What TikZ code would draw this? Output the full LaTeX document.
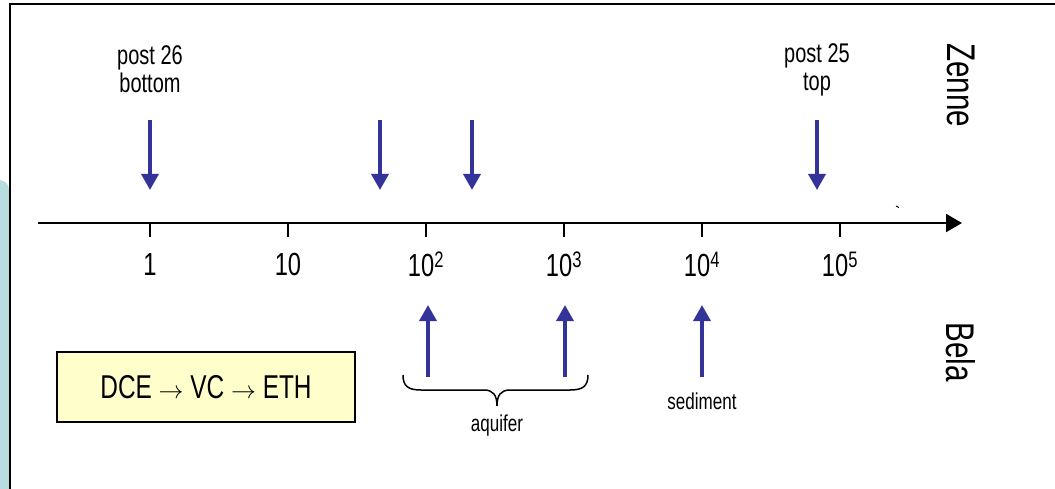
\documentclass[tikz,border=0pt]{standalone}
\usepackage{fontspec}
\setmainfont{Liberation Sans}[FakeStretch=0.74]
\usepackage{xcolor}
\usetikzlibrary{arrows.meta,positioning,calc}
\definecolor{marker}{HTML}{333399}
\definecolor{note}{HTML}{FFFFCC}
\definecolor{band}{HTML}{B7DDE0}

\begin{document}
\begin{tikzpicture}[x=1pt,y=-1pt,
    probe/.style={-{Triangle[length=16pt,width=17pt]}, line width=3.5pt, color=marker},
    axisline/.style={-{Triangle[length=16pt,width=18pt]}, line width=2pt},
    tickmark/.style={line width=2pt},
    ticklbl/.style={font=\fontsize{32}{34}\selectfont, inner sep=0pt},
    poslbl/.style={font=\fontsize{27}{28}\selectfont, align=center, inner sep=0pt},
    sitelbl/.style={font=\fontsize{40}{42}\selectfont, rotate=-90, inner sep=0pt},
    zonelbl/.style={font=\fontsize{23}{25}\selectfont, inner sep=0pt},
    chainbox/.style={rectangle, draw=black, line width=1.5pt, fill=note, minimum width=298pt, minimum height=70pt, font=\fontsize{33}{35}\selectfont}
]
    \useasboundingbox (0,0) rectangle (1055,489);

    % Background band and frame
    \fill[band] (0,180) .. controls (5,181) and (9,184) .. (9,190) -- (9,489) -- (0,489) -- cycle;
    \draw[line width=2pt] (1055,4.5) -- (10,4.5) -- (10,489);

    % Axis
    \coordinate (axstart) at (38,223);
    \coordinate (axend) at (962,223);
    \draw[axisline] (axstart) -- (axend);
    \draw[line width=1pt] (896,206) -- (899,207.5);

    % Ticks and labels
    \foreach \x/\lab [count=\i] in {150/1, 288/10, 426/10\textsuperscript{2}, 564/10\textsuperscript{3}, 702/10\textsuperscript{4}, 840/10\textsuperscript{5}}{
        \coordinate (tk\i) at (\x,223);
        \draw[tickmark] (tk\i) -- ++(0,14);
        \node[ticklbl] (tl\i) at (\x,264) {\lab};
    }

    % Zenne side
    \node[sitelbl] (zenne) at (961,85) {Zenne};
    \node[poslbl] (post26) at (150,69) {post 26\\bottom};
    \node[poslbl] (post25) at (817,70) {post 25\\top};
    \foreach \x/\n in {150/a, 380/b, 472/c, 817/d}{
        \coordinate (zs\n) at (\x,120);
        \coordinate (ze\n) at (\x,190);
        \draw[probe] (zs\n) -- (ze\n);
    }

    % Bela side
    \node[sitelbl] (bela) at (961,352) {Bela};
    \foreach \x/\n in {428/a, 565/b, 702/c}{
        \coordinate (bs\n) at (\x,377);
        \coordinate (be\n) at (\x,305);
        \draw[probe] (bs\n) -- (be\n);
    }
    \node[zonelbl] (sediment) at (702,401) {sediment};

    % Aquifer brace
    \draw[line width=1.5pt] (403,375) .. controls (403,386) and (408,390) .. (421,390)
        -- (484,390) .. controls (493,390) and (497,395) .. (497,406)
        .. controls (497,395) and (501,390) .. (510,390)
        -- (570,390) .. controls (583,390) and (588,386) .. (588,375);
    \node[zonelbl] (aquifer) at (497,426) {aquifer};

    % Reaction chain
    \node[chainbox] (chain) at (206,387) {DCE $\rightarrow$ VC $\rightarrow$ ETH};
\end{tikzpicture}
\end{document}
